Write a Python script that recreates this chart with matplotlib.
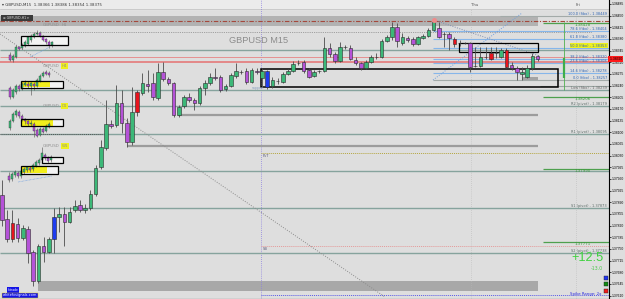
import numpy as np
import matplotlib
matplotlib.use("Agg")
import matplotlib.pyplot as plt
from matplotlib.patches import Rectangle

# ======================= DATA =======================
# GBPUSD M15 candles, prices in points (1 point = 0.00001)
m15_open = [137912, 137840, 137828, 137825, 137783, 137810, 137741, 137654, 137759, 137741,
            137780, 137846, 137855, 137831, 137867, 137882, 137867, 137873, 137915, 137996,
            138053, 138125, 138122, 138188, 138128, 138071, 138161, 138218, 138245, 138248,
            138203, 138281, 138260, 138248, 138152, 138179, 138206, 138197, 138188, 138233,
            138248, 138266, 138266, 138230, 138239, 138269, 138281, 138284, 138251, 138284,
            138263, 138284, 138239, 138254, 138251, 138275, 138284, 138308, 138311, 138287,
            138269, 138284, 138284, 138353, 138335, 138314, 138356, 138353, 138317, 138308,
            138293, 138311, 138326, 138326, 138374, 138386, 138416, 138368, 138383, 138380,
            138365, 138383, 138389, 138407, 138413, 138395, 138395, 138380, 138368, 138368,
            138368, 138299, 138299, 138326, 138338, 138338, 138326, 138347, 138302, 138293,
            138275, 138266, 138293, 138329]
m15_high = [137957, 137867, 137867, 137843, 137822, 137819, 137747, 137765, 137786, 137786,
            137873, 137876, 137876, 137876, 137897, 137897, 137885, 137927, 138002, 138077,
            138197, 138137, 138242, 138227, 138143, 138236, 138227, 138278, 138287, 138278,
            138308, 138311, 138266, 138251, 138182, 138212, 138218, 138203, 138239, 138257,
            138278, 138293, 138272, 138245, 138278, 138308, 138287, 138293, 138293, 138293,
            138293, 138287, 138266, 138263, 138281, 138290, 138314, 138317, 138317, 138293,
            138287, 138287, 138386, 138368, 138341, 138371, 138362, 138362, 138326, 138311,
            138317, 138332, 138338, 138380, 138392, 138431, 138428, 138398, 138389, 138386,
            138389, 138395, 138413, 138440, 138431, 138401, 138401, 138386, 138377, 138371,
            138371, 138356, 138356, 138356, 138356, 138356, 138353, 138353, 138311, 138299,
            138296, 138302, 138338, 138332]
m15_low = [137819, 137771, 137771, 137771, 137777, 137708, 137639, 137648, 137711, 137738,
           137738, 137801, 137759, 137828, 137861, 137861, 137858, 137867, 137909, 137990,
           138047, 138113, 138116, 138098, 138056, 138062, 138149, 138212, 138221, 138197,
           138197, 138254, 138242, 138146, 138146, 138173, 138191, 138167, 138182, 138212,
           138242, 138257, 138221, 138224, 138236, 138263, 138275, 138245, 138248, 138275,
           138236, 138230, 138233, 138245, 138248, 138272, 138281, 138302, 138278, 138263,
           138266, 138278, 138281, 138326, 138308, 138311, 138350, 138317, 138302, 138287,
           138290, 138308, 138320, 138323, 138371, 138377, 138356, 138362, 138371, 138359,
           138362, 138380, 138386, 138404, 138383, 138356, 138347, 138356, 138359, 138365,
           138281, 138296, 138296, 138320, 138317, 138323, 138323, 138293, 138287, 138257,
           138257, 138263, 138287, 138314]
m15_close = [137837, 137780, 137780, 137783, 137813, 137738, 137654, 137759, 137741, 137780,
             137846, 137855, 137831, 137861, 137879, 137867, 137873, 137915, 137993, 138056,
             138125, 138119, 138188, 138128, 138071, 138161, 138221, 138248, 138239, 138206,
             138281, 138260, 138248, 138152, 138176, 138206, 138197, 138188, 138233, 138248,
             138266, 138263, 138227, 138239, 138272, 138284, 138282, 138251, 138287, 138281,
             138284, 138236, 138257, 138255, 138275, 138284, 138305, 138309, 138284, 138266,
             138281, 138285, 138353, 138335, 138314, 138356, 138357, 138320, 138308, 138293,
             138311, 138326, 138327, 138374, 138386, 138416, 138374, 138386, 138377, 138365,
             138386, 138389, 138407, 138431, 138386, 138394, 138383, 138365, 138369, 138367,
             138296, 138298, 138326, 138325, 138320, 138337, 138347, 138296, 138293, 138281,
             138281, 138293, 138329, 138320]
red_bars = [2, 26, 87, 94, 97]      # bars painted red by the indicator
blue_bars = [10, 51]                # bars painted blue by the indicator
swing_high_bar = 83

# Mini charts of higher timeframes (points)
h1_open = [138332, 138317, 138326, 138356, 138353, 138359, 138365, 138377, 138386, 138395, 138398, 138389, 138380, 138371, 138362]
h1_high = [138341, 138335, 138362, 138359, 138368, 138377, 138389, 138395, 138401, 138407, 138404, 138392, 138383, 138377, 138374]
h1_low = [138314, 138311, 138323, 138347, 138350, 138356, 138362, 138371, 138383, 138392, 138386, 138374, 138365, 138353, 138356]
h1_close = [138317, 138329, 138356, 138350, 138362, 138371, 138386, 138389, 138395, 138398, 138389, 138377, 138371, 138362, 138371]

h4_open = [138233, 138206, 138221, 138239, 138230, 138242, 138245, 138239, 138245, 138239, 138254, 138269, 138281, 138278]
h4_high = [138239, 138233, 138245, 138245, 138251, 138257, 138254, 138251, 138251, 138263, 138275, 138284, 138287, 138284]
h4_low = [138200, 138203, 138215, 138224, 138227, 138239, 138233, 138212, 138227, 138236, 138251, 138266, 138272, 138266]
h4_close = [138206, 138227, 138239, 138230, 138245, 138248, 138239, 138248, 138239, 138257, 138269, 138278, 138275, 138272]

d1_open = [138113, 138134, 138152, 138161, 138149, 138140, 138134, 138125, 138125, 138107, 138092, 138110, 138104, 138116]
d1_high = [138140, 138161, 138170, 138167, 138155, 138143, 138137, 138137, 138131, 138113, 138116, 138116, 138125, 138131]
d1_low = [138107, 138131, 138146, 138143, 138134, 138125, 138119, 138119, 138086, 138086, 138089, 138098, 138101, 138113]
d1_close = [138134, 138155, 138164, 138149, 138140, 138134, 138125, 138128, 138104, 138089, 138110, 138101, 138119, 138125]

w1_open = [137969, 137960, 137972, 137978, 137969, 137981, 137987, 137993, 137990, 137999, 138008, 138017, 138032, 138023, 138017]
w1_high = [137981, 137981, 137987, 137984, 137990, 137996, 137999, 137999, 138008, 138017, 138023, 138056, 138038, 138029, 138032]
w1_low = [137951, 137954, 137966, 137963, 137963, 137975, 137981, 137981, 137984, 137996, 138002, 138011, 138017, 138008, 138011]
w1_close = [137957, 137975, 137981, 137969, 137984, 137990, 137996, 137987, 138002, 138011, 138017, 138038, 138023, 138014, 138026]

# Price levels
pivot_levels = [1.38347, 1.38227, 1.38179, 1.38095, 1.37984, 1.37873, 1.37738]
pivot_names = ["", "", "R2", "R1", "", "S1", "S2"]
red_levels = [1.38326, 1.38311]
fib_pct = [100.0, 78.6, 61.8, 50.0, 38.2, 23.6, 14.6, 0.0]
fib_price = [1.38449, 1.38404, 1.38380, 1.38353, 1.38320, 1.38308, 1.38278, 1.38257]
low_level = 1.38239
green_levels = [1.38428, 1.38206, 1.37990, 1.37771]
dashdot_level = 1.38433
dotted_level = 1.38401
dark_dotted_level = 1.38095
pvt_level = 1.38038
sb_level = 1.37759
spike_level = 1.37613
top_zone = (1.38419, 1.38449)
bottom_zone = (1.37624, 1.37654)
gray_levels = [1.38152, 1.38059]
box_main = (1.38236, 1.38290)
box_upper = (1.38341, 1.38368)
box_small = (1.38257, 1.38266)
tick_start, tick_stop, tick_step = 1.37610, 1.38486, 0.00035
last_price = 1.38320
pips_now, pips_prev = "+12.5", "-13.0"
current_bar_range = (1.38227, 1.38431)
current_bar_body = (1.38263, 1.38323)

# ======================= STYLE / LAYOUT =======================
BG = "#dedede"
BULL = "#3cb878"
BEAR = "#b552d8"
HRED = "#e8141e"
HBLUE = "#1e3cf0"
EDGE = "#2b2b2b"
WICK = "#4c4c4c"
PIV = "#86a39d"
FIB = "#86b6ea"


def px(x):
    return (x - 2) / 5.2


def py(y):
    return 1.38497 - 0.00003 * y


fig = plt.figure(figsize=(6.25, 2.99), dpi=100)
fig.patch.set_facecolor(BG)
ax = fig.add_axes([0, 0, 609 / 625, 1])
ax.set_facecolor(BG)
XL, XR = px(0), px(609)
ax.set_xlim(XL, XR)
ax.set_ylim(1.37600, 1.38497)
for s in ["top", "left"]:
    ax.spines[s].set_visible(False)
ax.spines["right"].set_color("black")
ax.spines["right"].set_linewidth(0.8)
ax.spines["bottom"].set_color("black")
ax.spines["bottom"].set_linewidth(0.8)
ax.set_xticks([])
ax.yaxis.tick_right()
ticks = np.arange(tick_start, tick_stop, tick_step)
ax.set_yticks(ticks)
ax.set_yticklabels([f"{t:.5f}" for t in ticks])
ax.tick_params(axis="y", direction="out", length=1.5, width=0.5, labelsize=2.4, pad=0.6, colors="black")
for lab in ax.get_yticklabels():
    lab.set_family("Liberation Sans")

# title strip
ax.axhspan(py(9), py(0), color="#ebebeb", zorder=0.5)
ax.axhline(py(9), color="#bdbdbd", lw=0.5, zorder=0.6)
ax.text(px(2), py(4.5), "▾ GBPUSD,M15  1.38366 1.38386 1.38354 1.38375", fontsize=2.8,
        color="#333333", va="center", ha="left", zorder=10)
ax.text(px(471), py(5), "Thu", fontsize=2.8, color="#555555", va="center", ha="left")
ax.text(px(576), py(5), "Fri", fontsize=2.8, color="#555555", va="center", ha="left")

# zones
ax.fill_between([XL, px(538)], top_zone[0], top_zone[1], color="#b2b2b2", lw=0, zorder=1)
ax.fill_between([px(38), px(538)], bottom_zone[0], bottom_zone[1], color="#a8a8a8", lw=0, zorder=1)

# separators
ax.axvline(px(261), color="#8c7fe0", lw=0.6, ls=(0, (1, 1.5)), zorder=1.5)
for xv in (471, 576):
    ax.vlines(px(xv), py(298), py(9), color="#b8b8b8", lw=0.5, ls=(0, (1, 2)), zorder=1.5)

# horizontal levels
ax.hlines(dashdot_level, XL, XR, color="#a5483c", lw=0.8, ls=(0, (4, 1.5, 1, 1.5)), zorder=2)
ax.hlines(dotted_level, XL, px(592), color="#8a8a8a", lw=0.6, ls=(0, (1, 1.2)), zorder=2)
for lv, nm in zip(pivot_levels, pivot_names):
    ax.hlines(lv, XL, XR, color=PIV, lw=1.0, zorder=2)
    if nm:
        ax.text(px(607), lv + 0.000008, f"{nm} (pivot) - {lv:.5f}", fontsize=2.5,
                color="#5a6a66", ha="right", va="bottom", zorder=6)
ax.hlines(red_levels[0], XL, XR, color="#e59090", lw=0.7, zorder=2)
ax.hlines(red_levels[1], XL, XR, color="#e48282", lw=1.3, zorder=2)
ax.hlines(gray_levels[0], px(178), px(538), color="#9c9c9c", lw=1.6, zorder=2)
ax.hlines(gray_levels[1], px(127), px(538), color="#9c9c9c", lw=1.6, zorder=2)
ax.hlines(dark_dotted_level, XL, px(103), color="#555555", lw=0.7, ls=(0, (1, 1)), zorder=2.1)
ax.hlines(pvt_level, px(261), XR, color="#b5a640", lw=0.7, ls=(0, (1, 1)), zorder=2)
ax.hlines(sb_level, px(261), XR, color="#e49a9a", lw=0.7, ls=(0, (1, 1)), zorder=2)
ax.hlines(spike_level, px(261), XR, color="#5a5ae8", lw=0.7, ls=(0, (1, 1)), zorder=2)
ax.text(px(263), pvt_level - 0.00002, "PvT", fontsize=2.6, color="#555577", va="top", ha="left")
ax.text(px(263), sb_level - 0.00002, "SB", fontsize=2.6, color="#555577", va="top", ha="left")

# fibonacci
for pct, lv in zip(fib_pct, fib_price):
    col = "#a3aaa8" if pct in (0.0, 100.0) else FIB
    x0 = px(500) if pct == 100.0 else px(433)
    ax.hlines(lv, x0, XR, color=col, lw=0.8, zorder=2.2)
    bb = dict(facecolor="#eef01e", edgecolor="none", pad=0.4) if pct == 50.0 else None
    ax.text(px(607), lv + 0.000008, f"{pct:.1f} (fibo) - {lv:.5f}", fontsize=2.5,
            color="#2d64b4", ha="right", va="bottom", zorder=6, bbox=bb)
ax.hlines(low_level, px(540), XR, color="#9aa5a2", lw=0.8, zorder=2.2)
ax.text(px(607), low_level - 0.000008, f"Low (fibo) - {low_level:.5f}", fontsize=2.5,
        color="#666666", ha="right", va="top", zorder=6)
for lv in green_levels:
    ax.hlines(lv, px(543), XR, color="#4ea04e", lw=0.9, zorder=2.2)
    ax.text(px(575), lv - 0.00001, f"{lv:.5f}", fontsize=2.8, color="#3a9a3a",
            ha="left", va="top", zorder=6)

# diagonal lines
ax.plot([XL, px(385)], [py(34), py(297)], color="#8c8c8c", lw=0.7, ls=(0, (1, 1.5)), zorder=2.3)
ax.plot([px(433), px(522)], [fib_price[-1], py(13)], color="#6f9fe0", lw=0.7, ls=(0, (1, 1.5)), zorder=2.3)
ax.plot([px(434), px(540)], [py(20), py(56)], color="#7f8fb0", lw=0.7, ls=(0, (1, 1.5)), zorder=2.3)

# boxes
ax.add_patch(Rectangle((px(261), box_main[0]), px(558) - px(261), box_main[1] - box_main[0],
                       fill=False, edgecolor="black", lw=1.1, zorder=3))
ax.add_patch(Rectangle((px(459), box_upper[0]), px(538) - px(459), box_upper[1] - box_upper[0],
                       fill=False, edgecolor="black", lw=0.9, zorder=3))
ax.add_patch(Rectangle((px(522), box_small[0]), px(538) - px(522), box_small[1] - box_small[0],
                       facecolor="#a4a4a4", edgecolor="none", zorder=3))


def candles(xs, o, h, l, c, width, special=None, lw=0.6, elw=0.4):
    special = special or {}
    for i, (x, oo, hh, ll, cc) in enumerate(zip(xs, o, h, l, c)):
        oo, hh, ll, cc = oo / 1e5, hh / 1e5, ll / 1e5, cc / 1e5
        col = special.get(i, BULL if cc >= oo else BEAR)
        ax.vlines(x, ll, hh, color=WICK, lw=lw, zorder=4)
        lo = min(oo, cc)
        hgt = max(abs(cc - oo), 0.000008)
        ax.add_patch(Rectangle((x - width / 2, lo), width, hgt, facecolor=col,
                               edgecolor=EDGE, lw=elw, zorder=5))


special = {i: HRED for i in red_bars}
special.update({i: HBLUE for i in blue_bars})
candles(np.arange(len(m15_open)), m15_open, m15_high, m15_low, m15_close, 0.66, special)
ax.plot(swing_high_bar, m15_high[swing_high_bar] / 1e5 - 0.00002, "o", ms=2.6,
        color="#f08a8a", zorder=6)

# forming bar marker
ax.vlines(px(564), *current_bar_range, color="#4fb04f", lw=0.6, zorder=4)
ax.vlines(px(564), *current_bar_body, color="#3fae4a", lw=1.6, zorder=4)

# mini higher-timeframe charts
minis = [("H1", 10, 25, h1_open, h1_high, h1_low, h1_close, [(21, 36, 68, 45)], []),
         ("H4", 10, 66, h4_open, h4_high, h4_low, h4_close, [(21, 81, 63, 88)], [(22, 82, 50, 87)]),
         ("D1", 10, 106, d1_open, d1_high, d1_low, d1_close, [(21, 119, 63, 126)], [(22, 120, 53, 126)]),
         ("W1", 9, 146, w1_open, w1_high, w1_low, w1_close, [(42, 157, 63, 163), (21, 166, 58, 174)],
          [(22, 167, 47, 173)])]
for tf, x0, ly, o, h, l, c, rects, yel in minis:
    for (x1, y1, x2, y2) in rects:
        ax.add_patch(Rectangle((px(x1), py(y2)), px(x2) - px(x1), py(y1) - py(y2),
                               facecolor="#f3f3f3", edgecolor="none", zorder=3.4))
    for (x1, y1, x2, y2) in yel:
        ax.add_patch(Rectangle((px(x1), py(y2)), px(x2) - px(x1), py(y1) - py(y2),
                               facecolor="#f2ee1c", edgecolor="none", zorder=3.5))
    xs = px(x0) + np.arange(len(o)) * (3 / 5.2)
    candles(xs, o, h, l, c, 0.36, lw=0.4, elw=0.25)
    for (x1, y1, x2, y2) in rects:
        ax.add_patch(Rectangle((px(x1), py(y2)), px(x2) - px(x1), py(y1) - py(y2),
                               fill=False, edgecolor="black", lw=0.9, zorder=6))
    ax.text(px(43), py(ly), "GBPUSD", fontsize=2.9, color="#8f8f8f", va="center", ha="left", zorder=7)
    bb = dict(facecolor="#eef01e", edgecolor="none", pad=0.5) if tf != "H1" else None
    ax.text(px(61.5), py(ly), tf, fontsize=2.9, color="#8f8f8f", va="center", ha="left", zorder=7, bbox=bb)

ax.plot([px(30), px(50)], [py(57), py(47)], color="#6f9fe0", lw=0.5, ls=(0, (1, 1)), zorder=4)
ax.plot([px(18), px(52)], [py(182), py(176)], color="#6f9fe0", lw=0.5, ls=(0, (1, 1)), zorder=4)

# top-left dark tag
ax.add_patch(Rectangle((px(1), py(20.5)), px(33) - px(1), py(15) - py(20.5),
                       facecolor="#3a3a3a", edgecolor="none", zorder=7))
ax.text(px(3), py(17.8), "≡ GBPUSD,H1 ▾", fontsize=2.3, color="#e0e0e0", va="center", ha="left", zorder=8)

# chart title
ax.text(px(229), py(40.5), "GBPUSD M15", fontsize=6.6, color="#8c8c8c", va="center", ha="left",
        family="Liberation Sans", zorder=7)
ax.text(px(252), py(88), "support", fontsize=2.4, color="#8aa0c0", va="center", ha="left", zorder=7)

# pip counters
ax.text(px(571), py(258), pips_now, fontsize=9.2, color="#3fd23f", va="center", ha="left",
        family="Liberation Sans", zorder=7)
ax.text(px(591), py(269), pips_prev, fontsize=3.4, color="#4fc84f", va="center", ha="left", zorder=7)
for yy, cc in ((278, "#2236f0"), (284.5, "#128a12"), (291, "#f01c1c")):
    ax.add_patch(Rectangle((px(603.5), py(yy + 2)), px(607.5) - px(603.5), py(yy - 2) - py(yy + 2),
                           facecolor=cc, edgecolor="#222222", lw=0.3, zorder=8))
ax.text(px(601), py(294.5), "Spike Range: 2x", fontsize=2.8, color="#2a2ae0", va="center",
        ha="right", zorder=8)

# bottom-left brand boxes
ax.text(px(8), py(290), "fxtrade", fontsize=2.2, color="white", va="center", ha="left", zorder=8,
        bbox=dict(facecolor="#1414e6", edgecolor="none", pad=0.4))
ax.text(px(3), py(295.2), "whitefxsignals.com", fontsize=2.5, color="white", va="center", ha="left",
        zorder=8, bbox=dict(facecolor="#1414e6", edgecolor="#e8d000", lw=0.3, pad=0.5))

# current price label
ax.text(XR, last_price, f" {last_price:.5f}", fontsize=2.4, color="black", va="center", ha="left",
        family="Liberation Sans", clip_on=False, zorder=9,
        bbox=dict(facecolor="#ff1a1a", edgecolor="none", pad=0.5))

fig.savefig("out.png", dpi=100, facecolor=BG)
